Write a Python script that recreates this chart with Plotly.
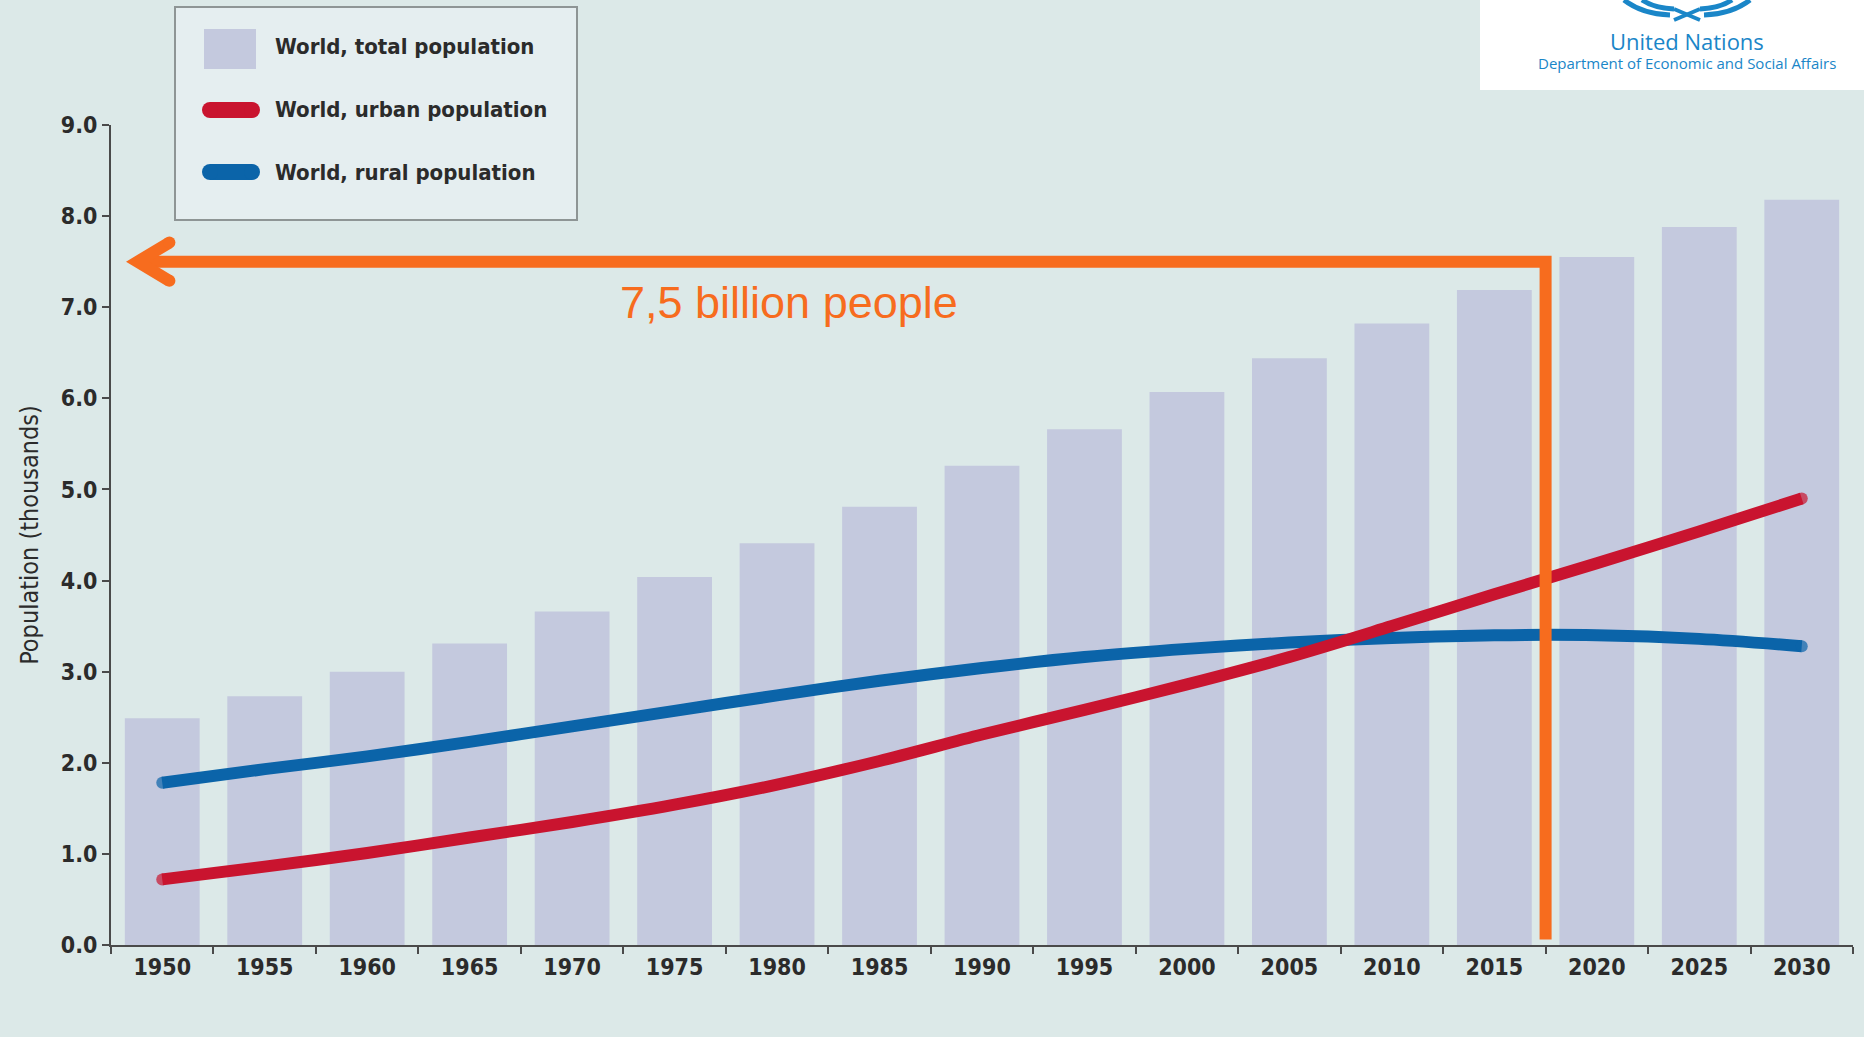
import plotly.graph_objects as go

# World population by five-year period (billions)
years = [1950, 1955, 1960, 1965, 1970, 1975, 1980, 1985, 1990,
         1995, 2000, 2005, 2010, 2015, 2020, 2025, 2030]
total = [2.49, 2.73, 3.00, 3.31, 3.66, 4.04, 4.41, 4.81, 5.26,
         5.66, 6.07, 6.44, 6.82, 7.19, 7.55, 7.88, 8.18]
urban = [0.72, 0.86, 1.01, 1.18, 1.35, 1.54, 1.76, 2.02, 2.31,
         2.58, 2.86, 3.16, 3.50, 3.85, 4.19, 4.54, 4.90]
rural = [1.78, 1.93, 2.07, 2.23, 2.40, 2.57, 2.74, 2.90, 3.04,
         3.16, 3.25, 3.32, 3.37, 3.40, 3.40, 3.36, 3.28]
y_ticks = [0, 1, 2, 3, 4, 5, 6, 7, 8, 9]

series_names = ["World, total population", "World, urban population", "World, rural population"]
highlight_value = 7.5
highlight_year = 2017.5
highlight_label = "7,5 billion people"

BG = "#dce9e8"
BAR = "#c4c9de"
RED = "#c9142f"
BLUE = "#0b64a9"
ORANGE = "#f76c1e"
INK = "#2b2b2b"
AXIS = "#4a4a4a"
NARROW = "DejaVu Sans Condensed, DejaVu Sans, sans-serif"

W, H = 1864, 1037
ML, MR, MT, MB = 111, 11, 125, 92
PW, PH = W - ML - MR, H - MT - MB


def px(x):
    return (x - ML) / PW


def py(y):
    return (H - MB - y) / PH


fig = go.Figure()

fig.add_trace(go.Bar(x=years, y=total, width=3.65, name=series_names[0],
                     marker=dict(color=BAR, line=dict(width=0))))


def cap_sizes(n, d):
    return [d] + [0] * (n - 2) + [d]


fig.add_trace(go.Scatter(x=years, y=rural, name=series_names[2], mode="lines+markers",
                         line=dict(color=BLUE, width=12, shape="spline", smoothing=0.9),
                         marker=dict(color=BLUE, size=cap_sizes(len(years), 12), line=dict(width=0))))
fig.add_trace(go.Scatter(x=years, y=urban, name=series_names[1], mode="lines+markers",
                         line=dict(color=RED, width=12, shape="spline", smoothing=0.9),
                         marker=dict(color=RED, size=cap_sizes(len(years), 12), line=dict(width=0))))

shapes = []
annotations = []

# Orange call-out: horizontal arrow at the highlighted value, vertical drop at the year
x_tip = 1948.8
arm_dx, arm_dy = 1.55, 0.21
shapes.append(dict(type="path", xref="x", yref="y",
                   path=f"M {x_tip},{highlight_value} L {highlight_year},{highlight_value} L {highlight_year},0.06",
                   line=dict(color=ORANGE, width=12)))
shapes.append(dict(type="path", xref="x", yref="y",
                   path=(f"M {x_tip + arm_dx},{highlight_value + arm_dy} L {x_tip},{highlight_value} "
                         f"L {x_tip + arm_dx},{highlight_value - arm_dy}"),
                   line=dict(color=ORANGE, width=12)))
for dy in (arm_dy, -arm_dy):
    shapes.append(dict(type="circle", xref="x", yref="y", xsizemode="pixel", ysizemode="pixel",
                       xanchor=x_tip + arm_dx, yanchor=highlight_value + dy,
                       x0=-6, x1=6, y0=-6, y1=6, fillcolor=ORANGE, line=dict(width=0)))
annotations.append(dict(x=1980.6, y=highlight_value - 0.45, xref="x", yref="y",
                        text=highlight_label, showarrow=False,
                        font=dict(family="Liberation Sans, Arial, sans-serif", size=45, color=ORANGE)))

# Legend box
shapes.append(dict(type="rect", xref="paper", yref="paper", x0=px(175), x1=px(577), y0=py(7), y1=py(220),
                   fillcolor="#e5eef0", line=dict(color="#8e9595", width=2), layer="above"))
shapes.append(dict(type="rect", xref="paper", yref="paper", x0=px(204), x1=px(256), y0=py(29), y1=py(69),
                   fillcolor=BAR, line=dict(width=0), layer="above"))
for yc, col in ((110, RED), (172, BLUE)):
    shapes.append(dict(type="line", xref="paper", yref="paper", x0=px(210), x1=px(252), y0=py(yc), y1=py(yc),
                       line=dict(color=col, width=16), layer="above"))
    for xc in (210, 252):
        shapes.append(dict(type="circle", xref="paper", yref="paper", x0=px(xc - 8), x1=px(xc + 8),
                           y0=py(yc - 8), y1=py(yc + 8), fillcolor=col, line=dict(width=0), layer="above"))
for name, yc in zip(series_names, (47, 110, 172)):
    annotations.append(dict(x=px(273), y=py(yc), xref="paper", yref="paper", xanchor="left", yanchor="middle",
                            text=name, showarrow=False,
                            font=dict(family=NARROW, size=22, color=INK, weight="bold")))

# Publisher block, top right
shapes.append(dict(type="rect", xref="paper", yref="paper", x0=px(1480), x1=px(1864), y0=py(0), y1=py(90),
                   fillcolor="white", line=dict(width=0), layer="above"))
emblem = "#1a86c8"
emblem_paths = [
    (1624, 0, 1642, 14, 1670, 15),
    (1750, 0, 1732, 14, 1704, 15),
    (1642, 0, 1654, 8, 1674, 9),
    (1732, 0, 1720, 8, 1700, 9),
]
for x0, y0, cx, cy, x1, y1 in emblem_paths:
    shapes.append(dict(type="path", xref="paper", yref="paper", layer="above",
                       path=f"M {px(x0)},{py(y0)} Q {px(cx)},{py(cy)} {px(x1)},{py(y1)}",
                       line=dict(color=emblem, width=5)))
for x0, x1 in ((1674, 1700), (1700, 1674)):
    shapes.append(dict(type="line", xref="paper", yref="paper", layer="above",
                       x0=px(x0), x1=px(x1), y0=py(9), y1=py(20), line=dict(color=emblem, width=4)))
annotations.append(dict(x=px(1687), y=py(41), xref="paper", yref="paper", xanchor="center", yanchor="middle",
                        text="United Nations", showarrow=False,
                        font=dict(family="Open Sans, sans-serif", size=22, color=emblem)))
annotations.append(dict(x=px(1687), y=py(63), xref="paper", yref="paper", xanchor="center", yanchor="middle",
                        text="Department of Economic and Social Affairs", showarrow=False,
                        font=dict(family="Open Sans, sans-serif", size=15, color=emblem)))

fig.update_layout(
    width=W, height=H,
    margin=dict(l=ML, r=MR, t=MT, b=MB),
    paper_bgcolor=BG, plot_bgcolor=BG,
    showlegend=False,
    shapes=shapes, annotations=annotations,
    xaxis=dict(range=[1947.5, 2032.5], tickmode="array", tickvals=years,
               ticktext=[str(y) for y in years], ticks="",
               showline=True, linecolor=AXIS, linewidth=2, showgrid=False, zeroline=False,
               minor=dict(tickmode="linear", tick0=1947.5, dtick=5, ticks="outside",
                          ticklen=7, tickwidth=2, tickcolor=AXIS, showgrid=False),
               tickfont=dict(family=NARROW, size=23, color=INK, weight="bold")),
    yaxis=dict(range=[0, 9], tickmode="array", tickvals=y_ticks, tickformat=".1f",
               ticks="outside", ticklen=7, tickwidth=2, tickcolor=AXIS,
               showline=True, linecolor=AXIS, linewidth=2, showgrid=False, zeroline=False,
               tickfont=dict(family=NARROW, size=23, color=INK, weight="bold"),
               title=dict(text="Population (thousands)", standoff=15,
                          font=dict(family=NARROW, size=25, color=INK))),
)

fig.write_html("out.html")
